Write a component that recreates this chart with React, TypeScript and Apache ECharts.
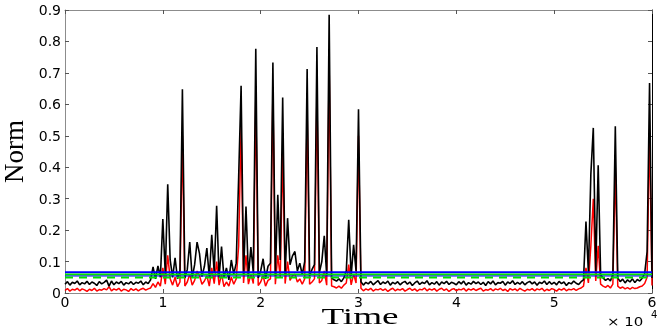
import React, { useEffect, useRef } from "react";
import * as echarts from "echarts";

// Sampling interval of the recorded signals (time units)
const STEP = 250;

// Black trace (norm), one value per STEP from t = 0 to t = 60000
const BLACK = [
  0.028,0.036,0.025,0.034,0.030,0.038,0.026,0.033,0.029,0.037,
  0.027,0.035,0.031,0.024,0.036,0.029,0.034,0.041,0.022,0.038,
  0.026,0.035,0.030,0.037,0.025,0.033,0.029,0.036,0.027,0.034,
  0.031,0.038,0.026,0.035,0.030,0.042,0.083,0.045,0.086,0.050,
  0.235,0.060,0.346,0.105,0.050,0.112,0.045,0.070,0.648,0.048,
  0.075,0.162,0.048,0.090,0.162,0.125,0.052,0.085,0.143,0.050,
  0.185,0.065,0.277,0.050,0.148,0.048,0.080,0.042,0.105,0.060,
  0.095,0.368,0.659,0.060,0.275,0.052,0.146,0.065,0.777,0.048,
  0.070,0.109,0.045,0.085,0.095,0.733,0.055,0.312,0.105,0.622,
  0.060,0.238,0.090,0.118,0.132,0.070,0.095,0.058,0.100,0.712,
  0.055,0.075,0.090,0.782,0.065,0.100,0.182,0.055,0.885,0.048,
  0.042,0.038,0.045,0.036,0.048,0.070,0.233,0.055,0.153,0.070,
  0.584,0.036,0.025,0.034,0.029,0.037,0.026,0.033,0.039,0.027,
  0.035,0.030,0.038,0.025,0.034,0.029,0.036,0.026,0.033,0.037,
  0.028,0.035,0.024,0.032,0.038,0.027,0.034,0.030,0.039,0.026,
  0.033,0.028,0.036,0.025,0.035,0.030,0.037,0.027,0.034,0.031,
  0.026,0.036,0.029,0.038,0.025,0.033,0.028,0.037,0.030,0.035,
  0.027,0.034,0.024,0.036,0.029,0.038,0.026,0.033,0.031,0.037,
  0.025,0.035,0.030,0.039,0.027,0.034,0.028,0.036,0.026,0.033,
  0.037,0.029,0.035,0.025,0.034,0.030,0.038,0.027,0.036,0.028,
  0.034,0.026,0.037,0.030,0.035,0.024,0.033,0.029,0.038,0.031,
  0.027,0.036,0.042,0.227,0.065,0.378,0.525,0.070,0.406,0.058,
  0.048,0.040,0.046,0.038,0.060,0.530,0.048,0.036,0.044,0.032,
  0.042,0.035,0.045,0.033,0.043,0.038,0.047,0.062,0.132,0.668,
  0.048,
];

// Red trace, same sampling
const RED = [
  0.008,0.014,0.006,0.012,0.009,0.015,0.007,0.013,0.010,0.005,
  0.012,0.008,0.015,0.006,0.011,0.009,0.014,0.010,0.020,0.007,
  0.013,0.009,0.015,0.006,0.012,0.010,0.005,0.014,0.008,0.013,
  0.007,0.012,0.015,0.009,0.013,0.016,0.030,0.018,0.035,0.022,
  0.080,0.028,0.120,0.045,0.025,0.050,0.020,0.035,0.500,0.022,
  0.035,0.060,0.025,0.040,0.070,0.055,0.028,0.038,0.055,0.022,
  0.080,0.030,0.100,0.025,0.060,0.020,0.035,0.022,0.050,0.028,
  0.045,0.150,0.530,0.032,0.120,0.028,0.060,0.030,0.620,0.024,
  0.035,0.055,0.022,0.040,0.045,0.645,0.028,0.120,0.050,0.450,
  0.030,0.100,0.040,0.055,0.060,0.035,0.045,0.028,0.045,0.580,
  0.028,0.035,0.045,0.640,0.032,0.040,0.070,0.025,0.735,0.022,
  0.020,0.016,0.022,0.015,0.025,0.032,0.090,0.026,0.060,0.032,
  0.500,0.015,0.007,0.013,0.009,0.015,0.006,0.012,0.010,0.014,
  0.008,0.013,0.005,0.011,0.015,0.007,0.012,0.009,0.014,0.006,
  0.011,0.015,0.008,0.013,0.006,0.012,0.010,0.016,0.007,0.013,
  0.009,0.014,0.006,0.012,0.015,0.008,0.013,0.005,0.011,0.014,
  0.007,0.012,0.010,0.015,0.006,0.013,0.009,0.014,0.008,0.012,
  0.015,0.006,0.011,0.009,0.014,0.007,0.013,0.010,0.015,0.008,
  0.012,0.005,0.014,0.009,0.013,0.007,0.015,0.010,0.006,0.012,
  0.009,0.014,0.007,0.013,0.010,0.015,0.006,0.012,0.008,0.014,
  0.011,0.006,0.013,0.009,0.015,0.007,0.012,0.010,0.014,0.008,
  0.013,0.016,0.022,0.080,0.032,0.150,0.300,0.038,0.150,0.028,
  0.022,0.018,0.024,0.016,0.028,0.400,0.022,0.015,0.019,0.013,
  0.017,0.012,0.018,0.014,0.016,0.020,0.022,0.030,0.050,0.520,
  0.024,
];

// Horizontal threshold levels
const THRESHOLDS = [0.066, 0.059, 0.054, 0.049];
const T_MIN = 0;
const T_MAX = 60000;

// Tick labels
const X_TICK_LABELS = ["0", "1", "2", "3", "4", "5", "6"];
const Y_TICK_LABELS = ["0", "0.1", "0.2", "0.3", "0.4", "0.5", "0.6", "0.7", "0.8", "0.9"];

const THRESH_STYLES = [
  { color: "#0000ff", width: 2, type: "solid" as const },
  { color: "#00e000", width: 2, type: "solid" as const },
  { color: "#0000ff", width: 1.2, type: "solid" as const },
  { color: "#00e000", width: 2, type: [8, 6] as any },
];

export default function App() {
  const ref = useRef<HTMLDivElement>(null);

  useEffect(() => {
    if (!ref.current) return;
    const chart = echarts.init(ref.current, undefined, { renderer: "svg" });

    const axisLineStyle = { color: "#8c8c8c", width: 1 };
    const tickStyle = { color: "#555555", width: 1 };
    const labelFont = { fontFamily: "DejaVu Sans", fontSize: 14, color: "#000" };

    const blackData = BLACK.map((v, i) => [i * STEP, v]);
    const redData = RED.map((v, i) => [i * STEP, v]);

    const threshSeries = THRESHOLDS.map((v, k) => ({
      type: "line",
      data: [
        [T_MIN, v],
        [T_MAX, v],
      ],
      showSymbol: false,
      silent: true,
      lineStyle: THRESH_STYLES[k],
      z: 5,
    }));

    chart.setOption({
      animation: false,
      grid: {
        left: 65,
        right: 12,
        top: 10,
        bottom: 34,
        containLabel: false,
        outerBoundsMode: "none",
      },
      xAxis: [
        {
          type: "value",
          position: "bottom",
          min: T_MIN,
          max: T_MAX,
          interval: 10000,
          axisLine: { show: true, onZero: false, lineStyle: axisLineStyle },
          axisTick: { show: true, inside: true, length: 4, lineStyle: tickStyle },
          axisLabel: {
            ...labelFont,
            margin: 2,
            formatter: (v: number) => X_TICK_LABELS[Math.round(v / 10000)] ?? "",
          },
          splitLine: { show: false },
        },
        {
          type: "value",
          position: "top",
          min: T_MIN,
          max: T_MAX,
          interval: 10000,
          axisLine: { show: true, onZero: false, lineStyle: axisLineStyle },
          axisTick: { show: true, inside: true, length: 4, lineStyle: tickStyle },
          axisLabel: { show: false },
          splitLine: { show: false },
        },
      ],
      yAxis: [
        {
          type: "value",
          position: "left",
          min: 0,
          max: 0.9,
          interval: 0.1,
          axisLine: { show: true, onZero: false, lineStyle: axisLineStyle },
          axisTick: { show: true, inside: true, length: 4, lineStyle: tickStyle },
          axisLabel: {
            ...labelFont,
            margin: 4,
            formatter: (v: number) => Y_TICK_LABELS[Math.round(v * 10)] ?? "",
          },
          splitLine: { show: false },
          name: "Norm",
          nameLocation: "middle",
          nameRotate: 90,
          nameGap: 38,
          nameTextStyle: { fontFamily: "Liberation Serif", fontSize: 27, color: "#000" },
        },
        {
          type: "value",
          position: "right",
          min: 0,
          max: 0.9,
          interval: 0.1,
          axisLine: { show: true, onZero: false, lineStyle: { color: "#000", width: 1 } },
          axisTick: { show: true, inside: true, length: 4, lineStyle: tickStyle },
          axisLabel: { show: false },
          splitLine: { show: false },
        },
      ],
      series: [
        {
          type: "line",
          data: redData,
          showSymbol: false,
          silent: true,
          lineStyle: { color: "#ff0000", width: 1.5 },
          z: 3,
        },
        {
          type: "line",
          data: blackData,
          showSymbol: false,
          silent: true,
          lineStyle: { color: "#000000", width: 1.6 },
          z: 4,
        },
        ...threshSeries,
      ],
      graphic: [
        {
          type: "text",
          x: 360,
          y: 316,
          scaleX: 1.55,
          style: {
            text: "Time",
            fontFamily: "Liberation Serif",
            fontSize: 24,
            fill: "#000",
            align: "center",
            verticalAlign: "middle",
          },
        },
        {
          type: "text",
          x: 607,
          y: 321,
          scaleX: 1.15,
          style: {
            text: "× 10",
            fontFamily: "DejaVu Sans",
            fontSize: 13,
            fill: "#000",
            align: "left",
            verticalAlign: "middle",
          },
        },
        {
          type: "text",
          x: 651,
          y: 314,
          style: {
            text: "4",
            fontFamily: "DejaVu Sans",
            fontSize: 10,
            fill: "#000",
            align: "left",
            verticalAlign: "middle",
          },
        },
      ],
    });

    return () => chart.dispose();
  }, []);

  return (
    <div
      ref={ref}
      style={{ position: "fixed", left: 0, top: 0, width: 664, height: 327 }}
    />
  );
}
